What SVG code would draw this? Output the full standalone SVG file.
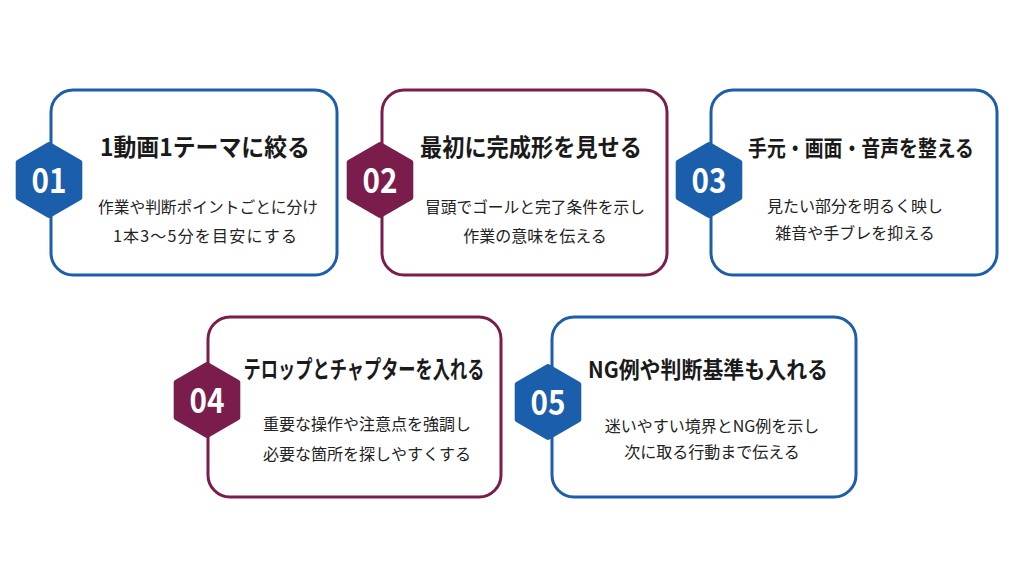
<svg xmlns="http://www.w3.org/2000/svg" width="1024" height="572" viewBox="0 0 1024 572">
<defs>
<style>
.card{fill:#ffffff;stroke-width:3}
.blue{stroke:#1b5eab}
.red{stroke:#7a1d4c}
.hb{fill:#1b5eab;stroke:#1b5eab;stroke-width:6;stroke-linejoin:round}
.hr{fill:#7a1d4c;stroke:#7a1d4c;stroke-width:6;stroke-linejoin:round}
.num{font-family:"Noto Sans CJK JP","Noto Sans",sans-serif;font-weight:700;font-size:34px;fill:#ffffff;text-anchor:middle}
.title{font-family:"Noto Sans CJK JP",sans-serif;font-weight:700;font-size:24px;fill:#1a1a1a;text-anchor:middle}
.sub{font-family:"Noto Sans CJK JP",sans-serif;font-weight:400;font-size:16px;fill:#222222;text-anchor:middle}
</style>
<polygon id="hex" points="0,-35 30.3,-17.5 30.3,17.5 0,35 -30.3,17.5 -30.3,-17.5"/>
</defs>
<rect width="1024" height="572" fill="#ffffff"/>
<g id="connectors"></g>
<g id="node1">
<rect class="card blue" x="51" y="90" width="286" height="185" rx="22"/>
<use href="#hex" class="hb" x="49" y="180"/>
<text class="num" x="49" y="193" textLength="35" lengthAdjust="spacingAndGlyphs">01</text>
<text class="title" x="205" y="156" textLength="210" lengthAdjust="spacingAndGlyphs">1動画1テーマに絞る</text>
<text class="sub" x="208" y="213" textLength="220" lengthAdjust="spacingAndGlyphs">作業や判断ポイントごとに分け</text>
<text class="sub" x="205" y="242" textLength="184" lengthAdjust="spacing">1本3～5分を目安にする</text>
</g>
<g id="node2">
<rect class="card red" x="382" y="90" width="285" height="185" rx="22"/>
<use href="#hex" class="hr" x="380" y="180"/>
<text class="num" x="380" y="193" textLength="35" lengthAdjust="spacingAndGlyphs">02</text>
<text class="title" x="531" y="156" textLength="222" lengthAdjust="spacingAndGlyphs">最初に完成形を見せる</text>
<text class="sub" x="535" y="213" textLength="220" lengthAdjust="spacingAndGlyphs">冒頭でゴールと完了条件を示し</text>
<text class="sub" x="535" y="242">作業の意味を伝える</text>
</g>
<g id="node3">
<rect class="card blue" x="711" y="90" width="286" height="185" rx="22"/>
<use href="#hex" class="hb" x="709" y="180"/>
<text class="num" x="709" y="193" textLength="35" lengthAdjust="spacingAndGlyphs">03</text>
<text class="title" x="861" y="156" style="font-size:22px" textLength="226" lengthAdjust="spacingAndGlyphs">手元・画面・音声を整える</text>
<text class="sub" x="855" y="212">見たい部分を明るく映し</text>
<text class="sub" x="855" y="239">雑音や手ブレを抑える</text>
</g>
<g id="node4">
<rect class="card red" x="208" y="317" width="293" height="180" rx="22"/>
<use href="#hex" class="hr" x="207" y="400"/>
<text class="num" x="207" y="413" textLength="35" lengthAdjust="spacingAndGlyphs">04</text>
<text class="title" x="364" y="378" textLength="241" lengthAdjust="spacingAndGlyphs">テロップとチャプターを入れる</text>
<text class="sub" x="367" y="430">重要な操作や注意点を強調し</text>
<text class="sub" x="367" y="460">必要な箇所を探しやすくする</text>
</g>
<g id="node5">
<rect class="card blue" x="552" y="317" width="304" height="180" rx="22"/>
<use href="#hex" class="hb" x="548" y="402"/>
<text class="num" x="548" y="415" textLength="35" lengthAdjust="spacingAndGlyphs">05</text>
<text class="title" x="708" y="378" style="font-size:22.5px" textLength="240" lengthAdjust="spacingAndGlyphs">NG例や判断基準も入れる</text>
<text class="sub" x="712" y="432">迷いやすい境界とNG例を示し</text>
<text class="sub" x="712" y="458">次に取る行動まで伝える</text>
</g>
</svg>
